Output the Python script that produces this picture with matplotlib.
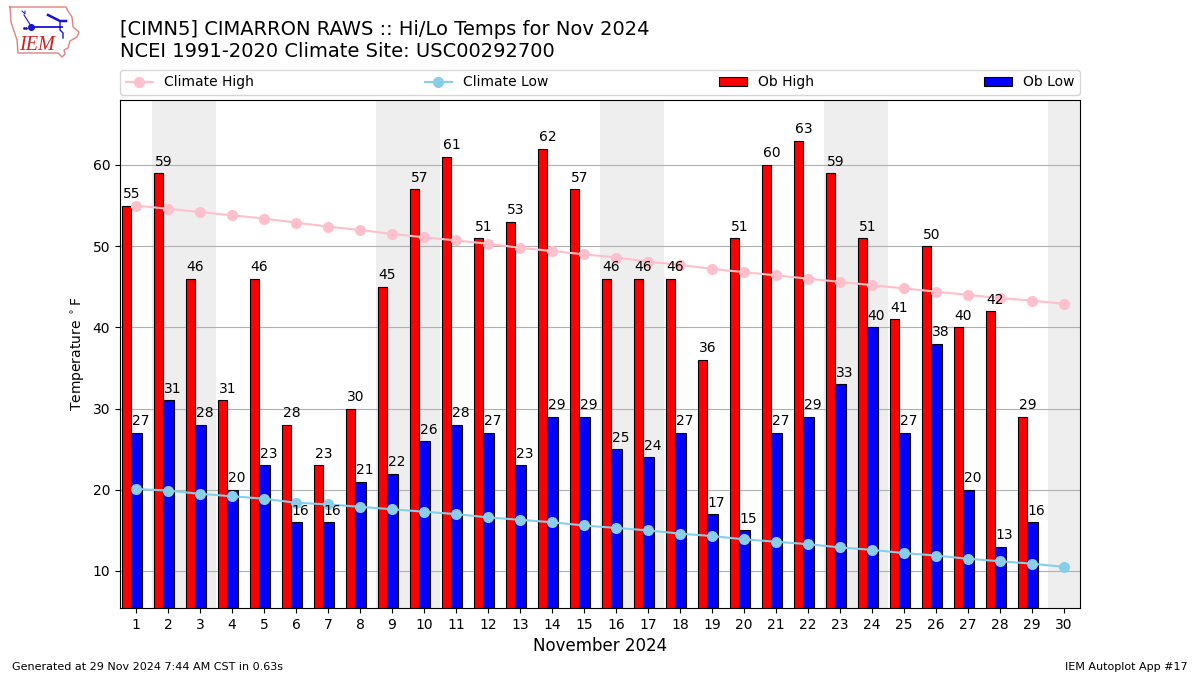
import matplotlib
matplotlib.use("Agg")
import matplotlib.pyplot as plt
import numpy as np

days = list(range(1, 31))
ob_high = [55,59,46,31,46,28,23,30,45,57,61,51,53,62,57,46,46,46,36,51,60,63,59,51,41,50,40,42,29]
ob_low = [27,31,28,20,23,16,16,21,22,26,28,27,23,29,29,25,24,27,17,15,27,29,33,40,27,38,20,13,16]
clim_high = [55.0,54.6,54.2,53.8,53.4,52.9,52.4,52.0,51.5,51.1,50.7,50.3,49.8,49.4,49.0,
             48.6,48.1,47.7,47.2,46.8,46.4,46.0,45.6,45.2,44.8,44.4,44.0,43.6,43.3,42.9]
clim_low = [20.1,19.9,19.5,19.2,18.9,18.4,18.2,17.9,17.6,17.3,17.0,16.6,16.3,16.0,15.6,
            15.3,15.0,14.6,14.3,13.9,13.6,13.3,12.9,12.6,12.2,11.9,11.5,11.2,10.9,10.5]
weekend_days = [2,3,9,10,16,17,23,24,30]
title_lines = ["[CIMN5] CIMARRON RAWS :: Hi/Lo Temps for Nov 2024", "NCEI 1991-2020 Climate Site: USC00292700"]

W, H = 1200, 675
fig = plt.figure(figsize=(12, 6.75), dpi=100)
ax = fig.add_axes([120/W, 1-608/H, 960/W, 508/H])

for d in weekend_days:
    ax.axvspan(d-0.5, d+0.5, color="#eeeeee", lw=0, zorder=0)

ax.yaxis.grid(True, color="#b0b0b0", lw=0.8, zorder=1)
ax.set_axisbelow(True)

w = 0.3
od = np.array(days[:len(ob_high)])
b1 = ax.bar(od-0.3, ob_high, width=w, color="red", edgecolor="black", lw=0.8, label="Ob High", zorder=2)
b2 = ax.bar(od+0.015, ob_low, width=w+0.03, color="blue", edgecolor="black", lw=0.8, label="Ob Low", zorder=2)
l1, = ax.plot(days, clim_high, color="pink", marker="o", ms=7, lw=1.5, label="Climate High", zorder=3)
l2, = ax.plot(days, clim_low, color="skyblue", marker="o", ms=7, lw=1.5, label="Climate Low", zorder=3)

for x, v in zip(od, ob_high):
    ax.text(x-0.42, v+0.55, str(v), fontsize=10, ha="left", va="bottom", zorder=4)
for x, v in zip(od, ob_low):
    ax.text(x-0.14, v+0.55, str(v), fontsize=10, ha="left", va="bottom", zorder=4)

ax.set_xlim(0.5, 30.5)
ax.set_ylim(5.44, 68.0)
ax.set_xticks(days)
ax.set_yticks(range(10, 70, 10))
ax.tick_params(labelsize=10)
ax.set_xlabel("November 2024", fontsize=12)
ax.set_ylabel(r"Temperature $^\circ$F", fontsize=10, labelpad=4)

leg_ax_box = (120/W, 1-95/H, 960/W, 27/H)
fig.legend(handles=[l1, l2, b1, b2], loc="lower left", bbox_to_anchor=leg_ax_box, mode="expand",
           ncol=4, fontsize=10, borderaxespad=0)

fig.text(120/W, 1-35/H, title_lines[0], fontsize=14, ha="left", va="baseline")
fig.text(120/W, 1-57/H, title_lines[1], fontsize=14, ha="left", va="baseline")
fig.text(12/W, 1-670/H, "Generated at 29 Nov 2024 7:44 AM CST in 0.63s", fontsize=8, ha="left", va="baseline")
fig.text(1188/W, 1-670/H, "IEM Autoplot App #17", fontsize=8, ha="right", va="baseline")

# Logo
la = fig.add_axes([0, 1-60/H, 85/W, 60/H])
la.set_xlim(0, 85); la.set_ylim(60, 0); la.axis("off")
ox = [10,66,68,72,73,79,77,70,68,64,65,62,58,18,17,11,10]
oy = [7,7,11,17,27,32,37,41,48,50,54,57,53,53,40,22,7]
la.plot(ox, oy, color="#e08080", lw=1)
blue = "#1414d2"
la.plot([31,62], [27,27], color=blue, lw=1.3)
la.plot([31], [27], "o", color=blue, ms=4)
la.plot([24,31], [15,26], color=blue, lw=0.8)
la.plot([22,25,25], [11,14,11], color=blue, lw=0.7)
la.plot([48,56,60,66], [15,19,21,21], color=blue, lw=1.8)
la.plot([60,60,63,63], [22,30,33,38], color=blue, lw=1)
la.plot([24,26], [28,28], ".", color=blue, ms=2)
la.text(37, 45, "IEM", color="#d02020", fontsize=14.5, family="Liberation Serif", style="italic", ha="center", va="center")

fig.savefig("out.png", dpi=100)
